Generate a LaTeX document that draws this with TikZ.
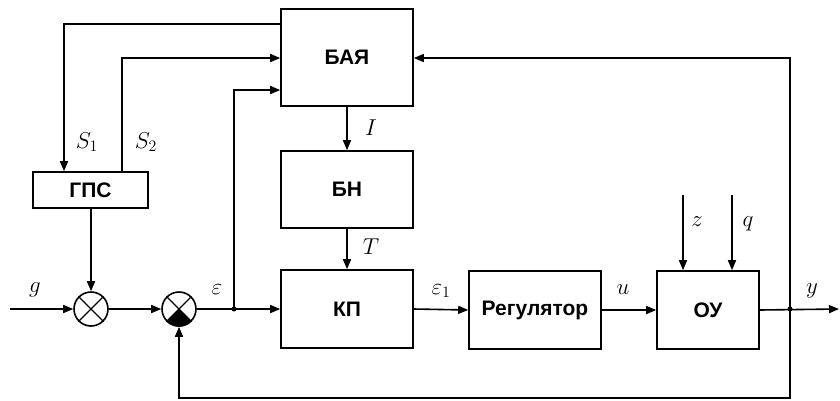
\documentclass[tikz,border=0pt]{standalone}
\usepackage{graphicx}
\usepackage{fontspec}
\setmainfont{Liberation Sans}
\usetikzlibrary{arrows.meta,calc}
\newcommand\mlab[1]{\scalebox{1.33}{$#1$}}
\begin{document}
\begin{tikzpicture}[x=1pt,y=-1pt,
  line width=1.6pt,
  arr/.style={-{Triangle[length=10pt,width=8pt]}},
  blk/.style={draw,rectangle,inner sep=0pt,font=\fontsize{21}{24}\selectfont\bfseries},
  sumc/.style={draw,circle,minimum size=34pt,inner sep=0pt},
  lbl/.style={font=\fontsize{17.28}{20}\selectfont,inner sep=0pt},
  dotc/.style={circle,fill,inner sep=0pt,minimum size=5pt}
]
\useasboundingbox (0,0) rectangle (840,400);
% blocks
\node[blk,minimum width=132pt,minimum height=97pt] (bay) at (347,57.5) {БАЯ};
\node[blk,minimum width=132pt,minimum height=77pt] (bn) at (347,189.5) {БН};
\node[blk,minimum width=132pt,minimum height=78pt] (kp) at (347,309) {КП};
\node[blk,minimum width=132pt,minimum height=78pt] (reg) at (535,310) {Регулятор};
\node[blk,minimum width=102pt,minimum height=78pt] (ou) at (708,310) {ОУ};
\node[blk,minimum width=115pt,minimum height=36pt] (gps) at (90.5,190) {ГПС};
% summing junctions
\node[sumc] (c1) at (91,309) {};
\node[sumc] (c2) at (179,309) {};
\foreach \c in {c1,c2}{
  \draw[line width=1.1pt] (\c.45) -- (\c.-135) (\c.135) -- (\c.-45);
}
\fill (c2.center) -- (c2.-45) -- (c2.-60) -- (c2.-75) -- (c2.-90) -- (c2.-105) -- (c2.-120) -- (c2.-135) -- cycle;
% coordinates
\coordinate (gin) at (10,309);
\coordinate (je) at (234,309);
\coordinate (jy) at (790,309);
\coordinate (yout) at (839,309);
\coordinate (zin) at (683,195);
\coordinate (qin) at (732,195);
\coordinate (s1x) at (64,0);
\coordinate (s2x) at (122,0);
\node[dotc] (dje) at (je) {};
\node[dotc] (djy) at (jy) {};
% connectors
\draw[arr] (gin) -- (c1.west);
\draw[arr] (gps.south -| c1) -- (c1.north);
\draw[arr] (c1.east) -- (c2.west);
\draw[arr] (c2.east) -- (kp.west);
\draw[arr] (je) |- ($(bay.west)+(0,32.5)$);
\draw[arr] ($(bay.west)+(0,-33.5)$) -| (s1x |- gps.north);
\draw[arr] (s2x |- gps.north) |- ($(bay.west)+(0,0.5)$);
\draw[arr] (bay.south) -- (bn.north);
\draw[arr] (bn.south) -- (kp.north);
\draw[arr] (kp.east) -- (reg.west);
\draw[arr] (reg.east) -- (ou.west);
\draw[arr] (zin) -- (zin |- ou.north);
\draw[arr] (qin) -- (qin |- ou.north);
\draw[arr] (ou.east) -- (yout);
\draw[arr] (jy) |- ($(bay.east)+(0,0.5)$);
\draw[arr] (jy) -- (790,398) -| (c2.south);
% labels
\node[lbl] (lg) at (35,290) {\mlab{g}};
\node[lbl] (ls1) at (87,142) {\mlab{S_1}};
\node[lbl] (ls2) at (146,142) {\mlab{S_2}};
\node[lbl] (leps) at (217,290) {\mlab{\varepsilon}};
\node[lbl] (lI) at (371,128) {\mlab{I}};
\node[lbl] (lT) at (371,247) {\mlab{T}};
\node[lbl] (leps1) at (441,291) {\mlab{\varepsilon_1}};
\node[lbl] (lu) at (623,290) {\mlab{u}};
\node[lbl] (lz) at (697,222) {\mlab{z}};
\node[lbl] (lq) at (748,224) {\mlab{q}};
\node[lbl] (ly) at (812,291) {\mlab{y}};
\end{tikzpicture}
\end{document}
